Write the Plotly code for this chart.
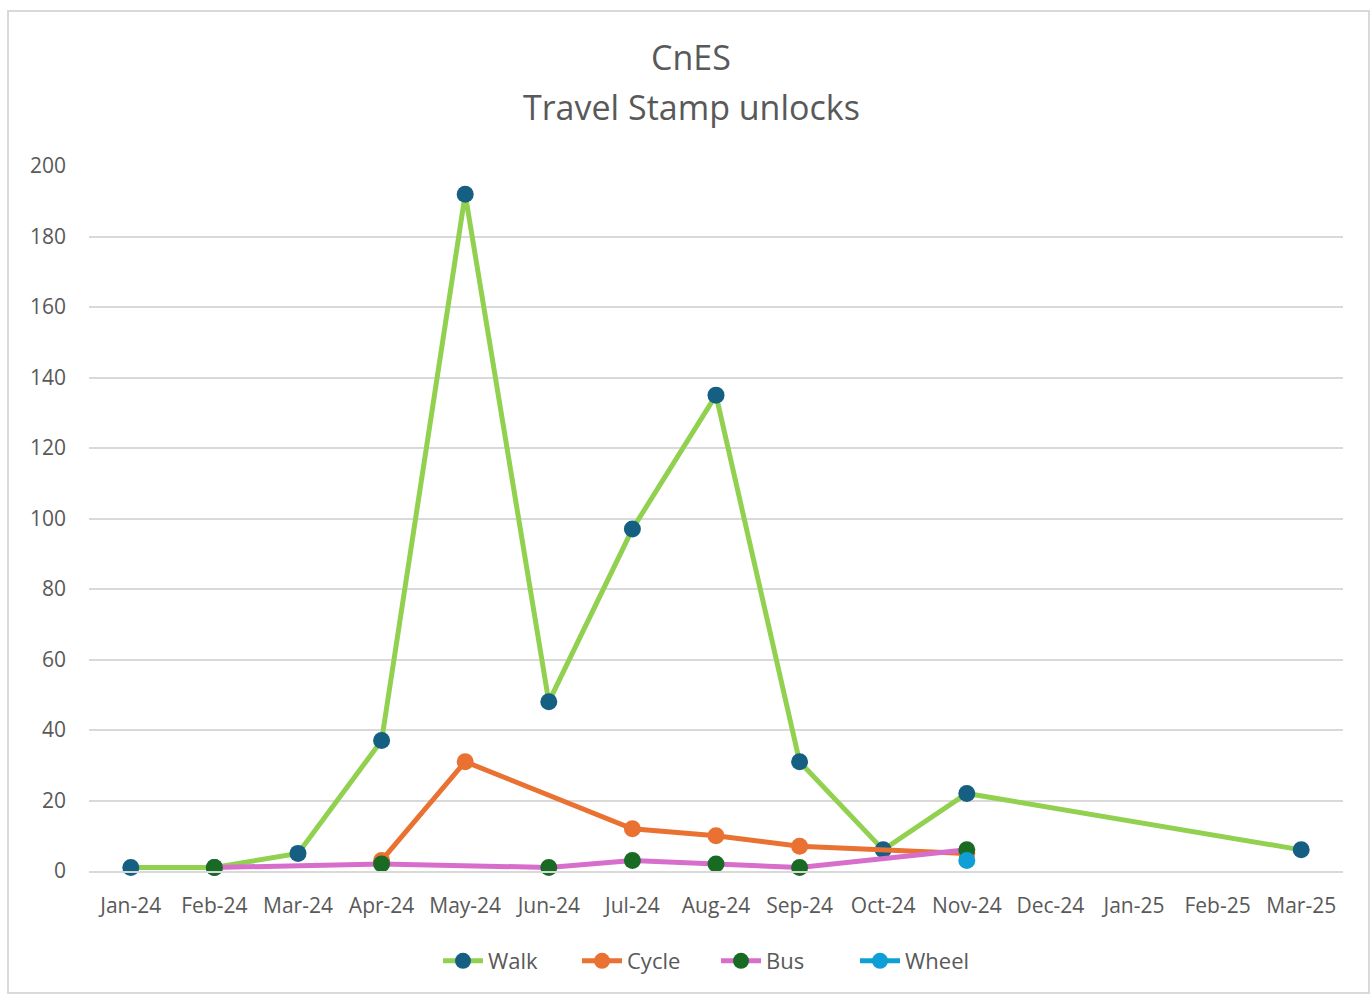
import plotly.graph_objects as go

months = ["Jan-24", "Feb-24", "Mar-24", "Apr-24", "May-24", "Jun-24", "Jul-24",
          "Aug-24", "Sep-24", "Oct-24", "Nov-24", "Dec-24", "Jan-25", "Feb-25", "Mar-25"]
walk = [1, 1, 5, 37, 192, 48, 97, 135, 31, 6, 22, None, None, None, 6]
cycle = [None, None, None, 3, 31, None, 12, 10, 7, None, 5, None, None, None, None]
bus = [None, 1, None, 2, None, 1, 3, 2, 1, None, 6, None, None, None, None]
wheel = [None, None, None, None, None, None, None, None, None, None, 3, None, None, None, None]
y_ticks = [0, 20, 40, 60, 80, 100, 120, 140, 160, 180, 200]

FONT = "Open Sans"
GREY = "#595959"

series = [
    ("Walk", walk, "#92D050", "#156082"),
    ("Cycle", cycle, "#E97132", "#E97132"),
    ("Bus", bus, "#D86ECC", "#196B24"),
    ("Wheel", wheel, "#0F9ED5", "#0F9ED5"),
]

fig = go.Figure()
for name, vals, lc, mc in series:
    fig.add_trace(go.Scatter(
        x=months, y=vals, name=name, mode="lines+markers",
        connectgaps=True,
        line=dict(color=lc, width=5),
        marker=dict(color=mc, size=17, line=dict(width=0)),
        cliponaxis=False,
    ))

W, H = 1370, 996
L, R, T, B = 89, 27, 166, 125
pw, ph = W - L - R, H - T - B

def px(x):
    return (x - L) / pw

def py(y):
    return (H - B - y) / ph

fig.update_layout(
    width=W, height=H,
    margin=dict(l=L, r=R, t=T, b=B),
    paper_bgcolor="white", plot_bgcolor="white",
    font=dict(family=FONT, color=GREY, size=21),
    showlegend=True,
    legend=dict(orientation="h", x=0.5, xanchor="center", y=py(961), yanchor="middle",
                font=dict(size=22, color=GREY), itemwidth=40, tracegroupgap=0,
                entrywidth=84, entrywidthmode="pixels"),
    xaxis=dict(type="category", categoryorder="array", categoryarray=months,
               range=[-0.5, len(months) - 0.5],
               showgrid=False, showline=True, linecolor="#D9D9D9", linewidth=2,
               ticks="", tickfont=dict(size=21, color=GREY), ticklabelstandoff=15,
               fixedrange=True),
    yaxis=dict(range=[0, 200], tickvals=y_ticks, showgrid=True, gridcolor="#D9D9D9",
               gridwidth=1.5, zeroline=False, showline=False, ticks="",
               tickfont=dict(size=21, color=GREY), ticklabelstandoff=22),
    shapes=[dict(type="rect", xref="paper", yref="paper",
                 x0=px(8), x1=px(1369), y0=py(993), y1=py(11),
                 line=dict(color="#D9D9D9", width=2), layer="below")],
    annotations=[
        dict(text="CnES", xref="paper", yref="paper", x=px(691), y=py(57),
             showarrow=False, font=dict(size=34, color=GREY), xanchor="center", yanchor="middle"),
        dict(text="Travel Stamp unlocks", xref="paper", yref="paper", x=px(691), y=py(107),
             showarrow=False, font=dict(size=34, color=GREY), xanchor="center", yanchor="middle"),
    ],
)

fig.write_html("out.html")
